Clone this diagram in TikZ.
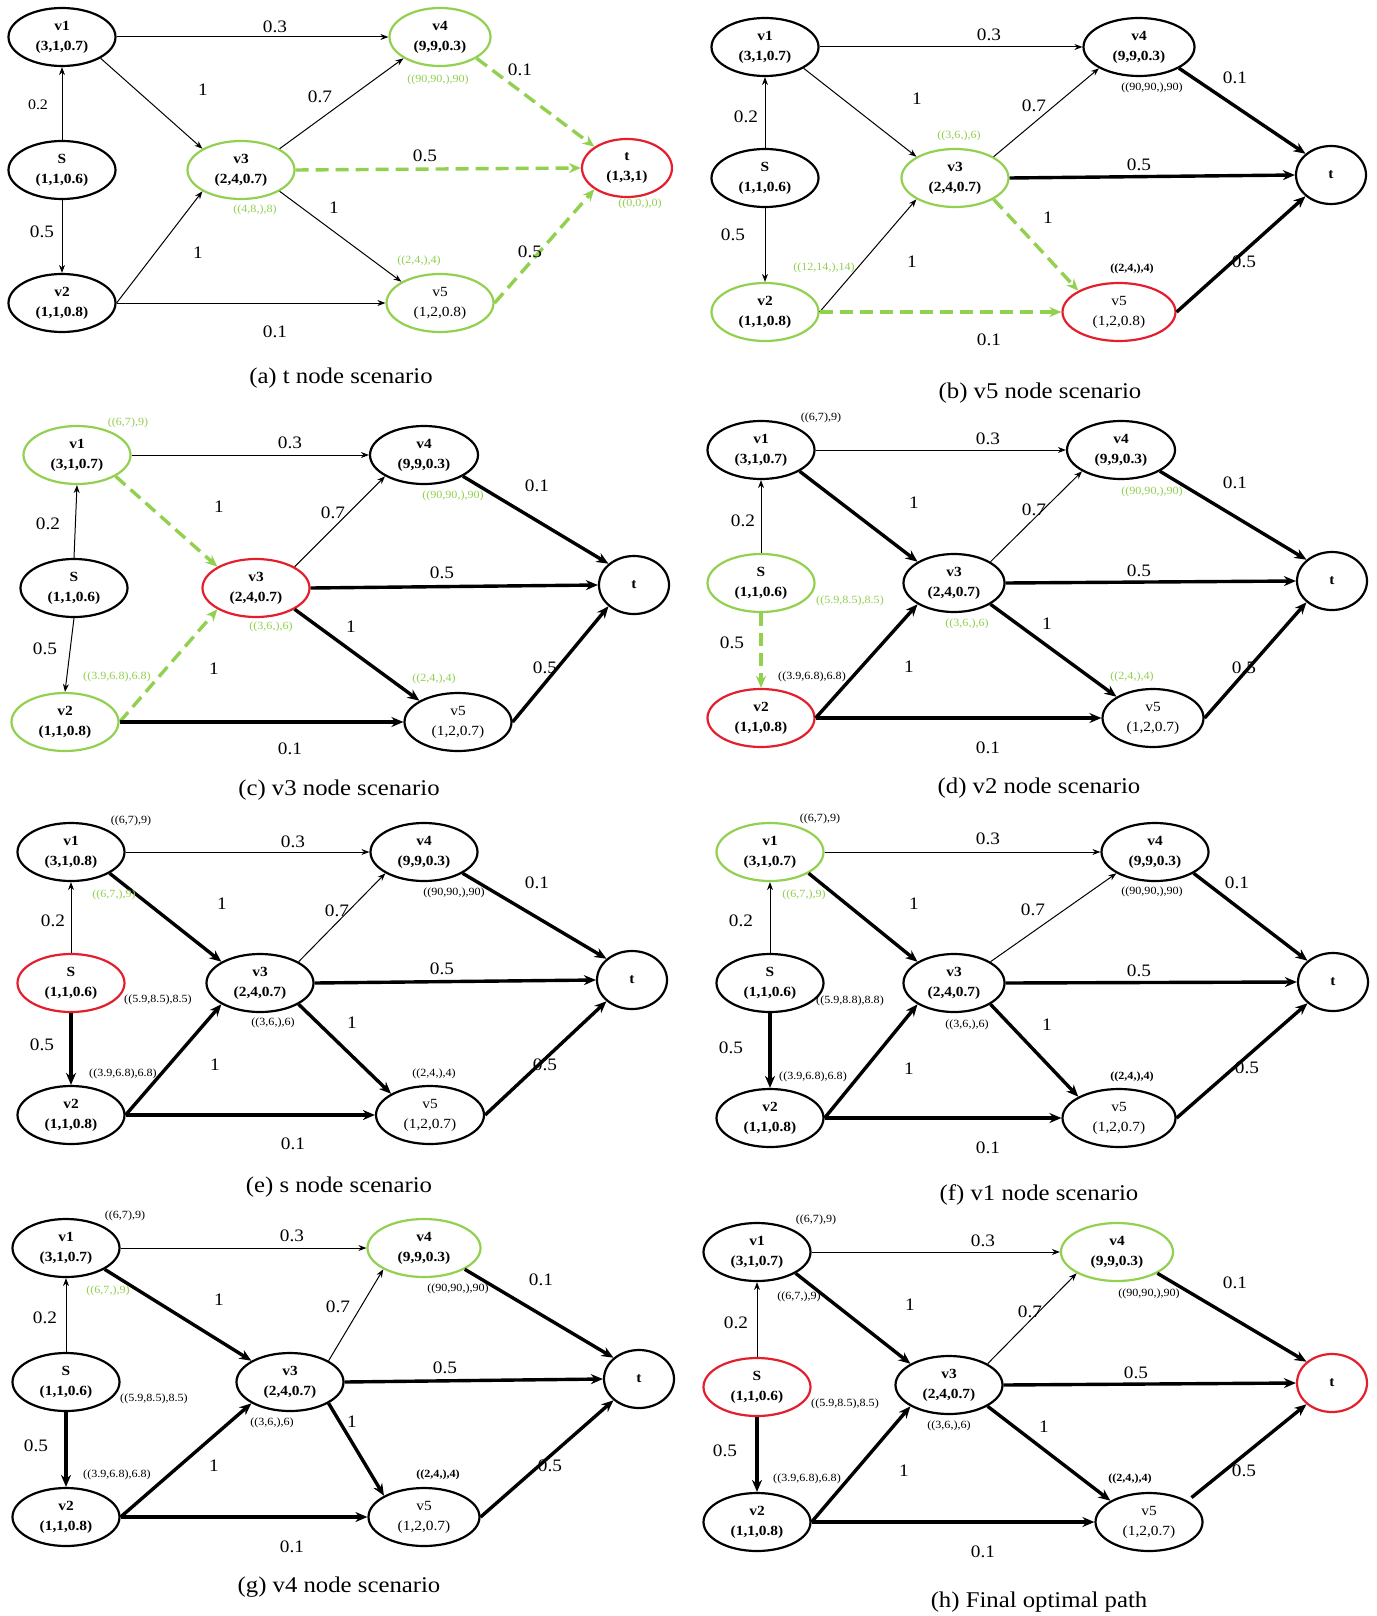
\documentclass[tikz,border=0pt]{standalone}
\usepackage{fontspec}
\setmainfont{Liberation Serif}[FakeStretch=1.1]
\usetikzlibrary{arrows.meta,shapes.geometric}
\definecolor{grn}{RGB}{146,208,80}
\definecolor{myred}{RGB}{228,30,45}
\newcommand\nodefnt{\fontsize{14}{20}\selectfont}
\tikzset{
  vn/.style={ellipse,draw,line width=2.2pt,minimum width=107pt,minimum height=58pt,inner sep=0pt,align=center,font=\nodefnt\bfseries},
  tn/.style={vn,minimum width=70pt},
  v5f/.style={font=\nodefnt},
  gn/.style={draw=grn},
  rn/.style={draw=myred},
  thn/.style={-{Stealth[length=8pt,width=6pt]},line width=1pt},
  thk/.style={-{Stealth[length=12pt,width=10pt]},line width=3.4pt},
  gd/.style={-{Stealth[length=12pt,width=10pt]},line width=3.4pt,draw=grn,dash pattern=on 13pt off 7pt},
  el/.style={inner sep=0pt,font=\fontsize{17.5}{20}\selectfont},
  ann/.style={inner sep=0pt,font=\fontsize{11}{13}\selectfont},
  anng/.style={ann,text=grn},
  annb/.style={ann,font=\fontsize{11}{13}\selectfont\bfseries},
  captxt/.style={inner sep=0pt,font=\fontsize{22.5}{25}\selectfont}
}
\begin{document}
\begin{tikzpicture}[x=1pt,y=-1pt]
\useasboundingbox[fill=white] (0,0) rectangle (1376,1616);
% ---------------- (a)
\node[vn] (a1) at (62,37) {v1\\(3,1,0.7)};
\node[vn] (as) at (62,170) {S\\(1,1,0.6)};
\node[vn] (a2) at (62,303) {v2\\(1,1,0.8)};
\node[vn,gn] (a3) at (241,170) {v3\\(2,4,0.7)};
\node[vn,gn,minimum width=101pt] (a4) at (440,37) {v4\\(9,9,0.3)};
\node[vn,gn,v5f] (a5) at (440,303) {v5\\(1,2,0.8)};
\node[tn,rn,minimum width=90pt] (at) at (627,168) {t\\(1,3,1)};
\draw[thn] (a1.east) -- (a4.west);
\draw[thn] (a1.south east) -- (a3.north west);
\draw[thn] (a3.north east) -- (a4.south west);
\draw[thn] (a3.south east) -- (a5.north west);
\draw[thn] (as.north) -- (a1.south);
\draw[thn] (as.south) -- (a2.north);
\draw[thn] (a2.east) -- (a3.south west);
\draw[thn] (a2.east) -- (a5.west);
\draw[gd] (a4.south east) -- (at.north west);
\draw[gd] (a3.east) -- (at.west);
\draw[gd] (a5.east) -- (at.south west);
\node[el] (al1) at (275,27) {0.3};
\node[el] (al2) at (203,90) {1};
\node[el] (al3) at (320,97) {0.7};
\node[el] (al4) at (520,70) {0.1};
\node[el,font=\fontsize{14.5}{17}\selectfont] (al5) at (38,105) {0.2};
\node[el] (al6) at (425,156) {0.5};
\node[el] (al7) at (42,232) {0.5};
\node[el] (al8) at (334,208) {1};
\node[el] (al9) at (198,253) {1};
\node[el] (al10) at (530,252) {0.5};
\node[el] (al11) at (275,332) {0.1};
\node[anng] (aa1) at (438,80) {((90,90,),90)};
\node[anng] (aa2) at (255,210) {((4,8,),8)};
\node[anng] (aa3) at (419,261) {((2,4,),4)};
\node[anng] (aa4) at (640,204) {((0,0,),0)};
\node[captxt] (acap) at (341,378) {(a) t node scenario};
% ---------------- (b)
\node[vn] (b1) at (765,47) {v1\\(3,1,0.7)};
\node[vn] (bs) at (765,178) {S\\(1,1,0.6)};
\node[vn,gn] (b2) at (765,312) {v2\\(1,1,0.8)};
\node[vn,gn] (b3) at (955,178) {v3\\(2,4,0.7)};
\node[vn,minimum width=111pt] (b4) at (1139,47) {v4\\(9,9,0.3)};
\node[vn,rn,v5f,minimum width=113pt] (b5) at (1119,312) {v5\\(1,2,0.8)};
\node[tn] (bt) at (1331,175) {t};
\draw[thn] (b1.east) -- (b4.west);
\draw[thn] (b1.south east) -- (b3.north west);
\draw[thn] (b3.north east) -- (b4.south west);
\draw[thn] (bs.north) -- (b1.south);
\draw[thn] (bs.south) -- (b2.north);
\draw[thn] (b2.east) -- (b3.south west);
\draw[thk] (b4.south east) -- (bt.north west);
\draw[thk] (b3.east) -- (bt.west);
\draw[thk] (b5.east) -- (bt.south west);
\draw[gd] (b3.south east) -- (b5.north west);
\draw[gd] (b2.east) -- (b5.west);
\node[el] (bl1) at (989,35) {0.3};
\node[el] (bl2) at (917,99) {1};
\node[el] (bl3) at (1034,106) {0.7};
\node[el] (bl4) at (1235,78) {0.1};
\node[el] (bl5) at (746,117) {0.2};
\node[el] (bl6) at (1139,165) {0.5};
\node[el] (bl7) at (733,235) {0.5};
\node[el] (bl8) at (1048,218) {1};
\node[el] (bl9) at (912,262) {1};
\node[el] (bl10) at (1244,262) {0.5};
\node[el] (bl11) at (989,340) {0.1};
\node[ann] (ba1) at (1152,88) {((90,90,),90)};
\node[anng] (ba2) at (959,136) {((3,6,),6)};
\node[anng] (ba3) at (824,268) {((12,14,),14)};
\node[annb] (ba4) at (1132,269) {((2,4,),4)};
\node[captxt] (bcap) at (1040,393) {(b) v5 node scenario};
% ---------------- (c)
\node[vn,gn] (c1) at (77,455) {v1\\(3,1,0.7)};
\node[vn] (cs) at (74,588) {S\\(1,1,0.6)};
\node[vn,gn] (c2) at (65,722) {v2\\(1,1,0.8)};
\node[vn,rn] (c3) at (256,588) {v3\\(2,4,0.7)};
\node[vn,minimum width=108pt] (c4) at (424,455) {v4\\(9,9,0.3)};
\node[vn,v5f] (c5) at (458,722) {v5\\(1,2,0.7)};
\node[tn] (ct) at (634,585) {t};
\draw[thn] (c1.east) -- (c4.west);
\draw[thn] (c3.north east) -- (c4.south west);
\draw[thn] (cs.north) -- (c1.south);
\draw[thn] (cs.south) -- (c2.north);
\draw[gd] (c1.south east) -- (c3.north west);
\draw[gd] (c2.east) -- (c3.south west);
\draw[thk] (c4.south east) -- (ct.north west);
\draw[thk] (c3.east) -- (ct.west);
\draw[thk] (c3.south east) -- (c5.north west);
\draw[thk] (c5.east) -- (ct.south west);
\draw[thk] (c2.east) -- (c5.west);
\node[el] (cl1) at (290,443) {0.3};
\node[el] (cl2) at (219,507) {1};
\node[el] (cl3) at (333,513) {0.7};
\node[el] (cl4) at (537,486) {0.1};
\node[el] (cl5) at (48,524) {0.2};
\node[el] (cl6) at (442,573) {0.5};
\node[el] (cl7) at (45,649) {0.5};
\node[el] (cl8) at (351,627) {1};
\node[el] (cl9) at (214,669) {1};
\node[el] (cl10) at (545,668) {0.5};
\node[el] (cl11) at (290,749) {0.1};
\node[anng] (ca1) at (128,423) {((6,7),9)};
\node[anng] (ca2) at (453,496) {((90,90,),90)};
\node[anng] (ca3) at (271,627) {((3,6,),6)};
\node[anng] (ca4) at (117,677) {((3.9,6.8),6.8)};
\node[anng] (ca5) at (434,679) {((2,4,),4)};
\node[captxt] (ccap) at (339,790) {(c) v3 node scenario};
% ---------------- (d)
\node[vn] (d1) at (761,450) {v1\\(3,1,0.7)};
\node[vn,gn] (ds) at (761,583) {S\\(1,1,0.6)};
\node[vn,rn] (d2) at (761,718) {v2\\(1,1,0.8)};
\node[vn,minimum width=101pt] (d3) at (954,583) {v3\\(2,4,0.7)};
\node[vn,minimum width=108pt] (d4) at (1121,450) {v4\\(9,9,0.3)};
\node[vn,v5f,minimum width=101pt] (d5) at (1153,718) {v5\\(1,2,0.7)};
\node[tn] (dt) at (1332,581) {t};
\draw[thn] (d1.east) -- (d4.west);
\draw[thn] (d3.north east) -- (d4.south west);
\draw[thn] (ds.north) -- (d1.south);
\draw[gd] (ds.south) -- (d2.north);
\draw[thk] (d1.south east) -- (d3.north west);
\draw[thk] (d4.south east) -- (dt.north west);
\draw[thk] (d3.east) -- (dt.west);
\draw[thk] (d3.south east) -- (d5.north west);
\draw[thk] (d5.east) -- (dt.south west);
\draw[thk] (d2.east) -- (d3.south west);
\draw[thk] (d2.east) -- (d5.west);
\node[el] (dl1) at (988,439) {0.3};
\node[el] (dl2) at (914,503) {1};
\node[el] (dl3) at (1034,510) {0.7};
\node[el] (dl4) at (1235,483) {0.1};
\node[el] (dl5) at (743,521) {0.2};
\node[el] (dl6) at (1139,571) {0.5};
\node[el] (dl7) at (732,643) {0.5};
\node[el] (dl8) at (1047,624) {1};
\node[el] (dl9) at (909,667) {1};
\node[el] (dl10) at (1244,668) {0.5};
\node[el] (dl11) at (988,748) {0.1};
\node[ann] (da1) at (821,418) {((6,7),9)};
\node[anng] (da2) at (1152,492) {((90,90,),90)};
\node[anng] (da3) at (850,601) {((5.9,8.5),8.5)};
\node[anng] (da4) at (967,624) {((3,6,),6)};
\node[ann] (da5) at (812,677) {((3.9,6.8),6.8)};
\node[anng] (da6) at (1132,677) {((2,4,),4)};
\node[captxt] (dcap) at (1039,788) {(d) v2 node scenario};
% ---------------- (e)
\node[vn] (e1) at (71,852) {v1\\(3,1,0.8)};
\node[vn,rn] (es) at (71,983) {S\\(1,1,0.6)};
\node[vn] (e2) at (71,1115) {v2\\(1,1,0.8)};
\node[vn] (e3) at (260,983) {v3\\(2,4,0.7)};
\node[vn] (e4) at (424,852) {v4\\(9,9,0.3)};
\node[vn,v5f,minimum width=108pt] (e5) at (430,1115) {v5\\(1,2,0.7)};
\node[tn] (et) at (632,980) {t};
\draw[thn] (e1.east) -- (e4.west);
\draw[thn] (e3.north east) -- (e4.south west);
\draw[thn] (es.north) -- (e1.south);
\draw[thk] (es.south) -- (e2.north);
\draw[thk] (e1.south east) -- (e3.north west);
\draw[thk] (e4.south east) -- (et.north west);
\draw[thk] (e3.east) -- (et.west);
\draw[thk] (e3.south east) -- (e5.north west);
\draw[thk] (e5.east) -- (et.south west);
\draw[thk] (e2.east) -- (e3.south west);
\draw[thk] (e2.east) -- (e5.west);
\node[el] (el1) at (293,842) {0.3};
\node[el] (el2) at (222,904) {1};
\node[el] (el3) at (337,911) {0.7};
\node[el] (el4) at (537,883) {0.1};
\node[el] (el5) at (53,921) {0.2};
\node[el] (el6) at (442,969) {0.5};
\node[el] (el7) at (42,1045) {0.5};
\node[el] (el8) at (352,1023) {1};
\node[el] (el9) at (215,1065) {1};
\node[el] (el10) at (545,1065) {0.5};
\node[el] (el11) at (293,1144) {0.1};
\node[ann] (ea1) at (131,821) {((6,7),9)};
\node[anng] (ea2) at (114,895) {((6,7,),9)};
\node[ann] (ea3) at (454,893) {((90,90,),90)};
\node[ann] (ea4) at (158,1000) {((5.9,8.5),8.5)};
\node[ann] (ea5) at (273,1023) {((3,6,),6)};
\node[ann] (ea6) at (123,1074) {((3.9,6.8),6.8)};
\node[ann] (ea7) at (434,1074) {((2,4,),4)};
\node[captxt] (ecap) at (339,1187) {(e) s node scenario};
% ---------------- (f)
\node[vn,gn] (f1) at (770,852) {v1\\(3,1,0.7)};
\node[vn] (fs) at (770,983) {S\\(1,1,0.6)};
\node[vn] (f2) at (770,1118) {v2\\(1,1,0.8)};
\node[vn,minimum width=101pt] (f3) at (954,983) {v3\\(2,4,0.7)};
\node[vn] (f4) at (1155,852) {v4\\(9,9,0.3)};
\node[vn,v5f,minimum width=113pt] (f5) at (1119,1118) {v5\\(1,2,0.7)};
\node[tn] (ft) at (1333,982) {t};
\draw[thn] (f1.east) -- (f4.west);
\draw[thn] (f3.north east) -- (f4.south west);
\draw[thn] (fs.north) -- (f1.south);
\draw[thk] (fs.south) -- (f2.north);
\draw[thk] (f1.south east) -- (f3.north west);
\draw[thk] (f4.south east) -- (ft.north west);
\draw[thk] (f3.east) -- (ft.west);
\draw[thk] (f3.south east) -- (f5.north west);
\draw[thk] (f5.east) -- (ft.south west);
\draw[thk] (f2.east) -- (f3.south west);
\draw[thk] (f2.east) -- (f5.west);
\node[el] (fl1) at (988,839) {0.3};
\node[el] (fl2) at (914,904) {1};
\node[el] (fl3) at (1033,910) {0.7};
\node[el] (fl4) at (1237,883) {0.1};
\node[el] (fl5) at (741,921) {0.2};
\node[el] (fl6) at (1139,971) {0.5};
\node[el] (fl7) at (731,1048) {0.5};
\node[el] (fl8) at (1047,1025) {1};
\node[el] (fl9) at (909,1069) {1};
\node[el] (fl10) at (1247,1068) {0.5};
\node[el] (fl11) at (988,1148) {0.1};
\node[ann] (fa1) at (820,819) {((6,7),9)};
\node[anng] (fa2) at (804,895) {((6,7,),9)};
\node[ann] (fa3) at (1152,892) {((90,90,),90)};
\node[ann] (fa4) at (850,1001) {((5.9,8.8),8.8)};
\node[ann] (fa5) at (967,1025) {((3,6,),6)};
\node[ann] (fa6) at (813,1077) {((3.9,6.8),6.8)};
\node[annb] (fa7) at (1132,1077) {((2,4,),4)};
\node[captxt] (fcap) at (1039,1195) {(f) v1 node scenario};
% ---------------- (g)
\node[vn] (g1) at (66,1248) {v1\\(3,1,0.7)};
\node[vn] (gs) at (66,1382) {S\\(1,1,0.6)};
\node[vn] (g2) at (66,1517) {v2\\(1,1,0.8)};
\node[vn] (g3) at (290,1382) {v3\\(2,4,0.7)};
\node[vn,gn,minimum width=113pt] (g4) at (424,1248) {v4\\(9,9,0.3)};
\node[vn,v5f,minimum width=111pt] (g5) at (424,1517) {v5\\(1,2,0.7)};
\node[tn] (gt) at (639,1379) {t};
\draw[thn] (g1.east) -- (g4.west);
\draw[thn] (g3.north east) -- (g4.south west);
\draw[thn] (gs.north) -- (g1.south);
\draw[thk] (gs.south) -- (g2.north);
\draw[thk] (g1.south east) -- (g3.north west);
\draw[thk] (g4.south east) -- (gt.north west);
\draw[thk] (g3.east) -- (gt.west);
\draw[thk] (g3.south east) -- (g5.north west);
\draw[thk] (g5.east) -- (gt.south west);
\draw[thk] (g2.east) -- (g3.south west);
\draw[thk] (g2.east) -- (g5.west);
\node[el] (gl1) at (292,1236) {0.3};
\node[el] (gl2) at (219,1300) {1};
\node[el] (gl3) at (338,1307) {0.7};
\node[el] (gl4) at (541,1280) {0.1};
\node[el] (gl5) at (45,1318) {0.2};
\node[el] (gl6) at (445,1368) {0.5};
\node[el] (gl7) at (36,1446) {0.5};
\node[el] (gl8) at (352,1422) {1};
\node[el] (gl9) at (214,1466) {1};
\node[el] (gl10) at (550,1466) {0.5};
\node[el] (gl11) at (292,1547) {0.1};
\node[ann] (ga1) at (125,1216) {((6,7),9)};
\node[anng] (ga2) at (108,1291) {((6,7,),9)};
\node[ann] (ga3) at (458,1289) {((90,90,),90)};
\node[ann] (ga4) at (154,1399) {((5.9,8.5),8.5)};
\node[ann] (ga5) at (272,1423) {((3,6,),6)};
\node[ann] (ga6) at (117,1475) {((3.9,6.8),6.8)};
\node[annb] (ga7) at (438,1475) {((2,4,),4)};
\node[captxt] (gcap) at (339,1587) {(g) v4 node scenario};
% ---------------- (h)
\node[vn] (h1) at (757,1252) {v1\\(3,1,0.7)};
\node[vn,rn] (hs) at (757,1387) {S\\(1,1,0.6)};
\node[vn] (h2) at (757,1522) {v2\\(1,1,0.8)};
\node[vn] (h3) at (949,1385) {v3\\(2,4,0.7)};
\node[vn,gn,minimum width=112pt] (h4) at (1117,1252) {v4\\(9,9,0.3)};
\node[vn,v5f] (h5) at (1149,1522) {v5\\(1,2,0.7)};
\node[tn,rn] (ht) at (1332,1383) {t};
\draw[thn] (h1.east) -- (h4.west);
\draw[thn] (h3.north east) -- (h4.south west);
\draw[thn] (hs.north) -- (h1.south);
\draw[thk] (hs.south) -- (h2.north);
\draw[thk] (h1.south east) -- (h3.north west);
\draw[thk] (h4.south east) -- (ht.north west);
\draw[thk] (h3.east) -- (ht.west);
\draw[thk] (h3.south east) -- (h5.north west);
\draw[thk,shorten <=5pt] (h5.north east) -- (ht.south west);
\draw[thk] (h2.east) -- (h3.south west);
\draw[thk] (h2.east) -- (h5.west);
\node[el] (hl1) at (983,1241) {0.3};
\node[el] (hl2) at (910,1305) {1};
\node[el] (hl3) at (1030,1312) {0.7};
\node[el] (hl4) at (1235,1283) {0.1};
\node[el] (hl5) at (736,1323) {0.2};
\node[el] (hl6) at (1136,1373) {0.5};
\node[el] (hl7) at (725,1451) {0.5};
\node[el] (hl8) at (1044,1427) {1};
\node[el] (hl9) at (904,1471) {1};
\node[el] (hl10) at (1244,1471) {0.5};
\node[el] (hl11) at (983,1552) {0.1};
\node[ann] (ha1) at (816,1220) {((6,7),9)};
\node[ann] (ha2) at (799,1297) {((6,7,),9)};
\node[ann] (ha3) at (1149,1294) {((90,90,),90)};
\node[ann] (ha4) at (845,1404) {((5.9,8.5),8.5)};
\node[ann] (ha5) at (949,1426) {((3,6,),6)};
\node[ann] (ha6) at (807,1479) {((3.9,6.8),6.8)};
\node[annb] (ha7) at (1130,1479) {((2,4,),4)};
\node[captxt] (hcap) at (1039,1602) {(h) Final optimal path};
\end{tikzpicture}
\end{document}
